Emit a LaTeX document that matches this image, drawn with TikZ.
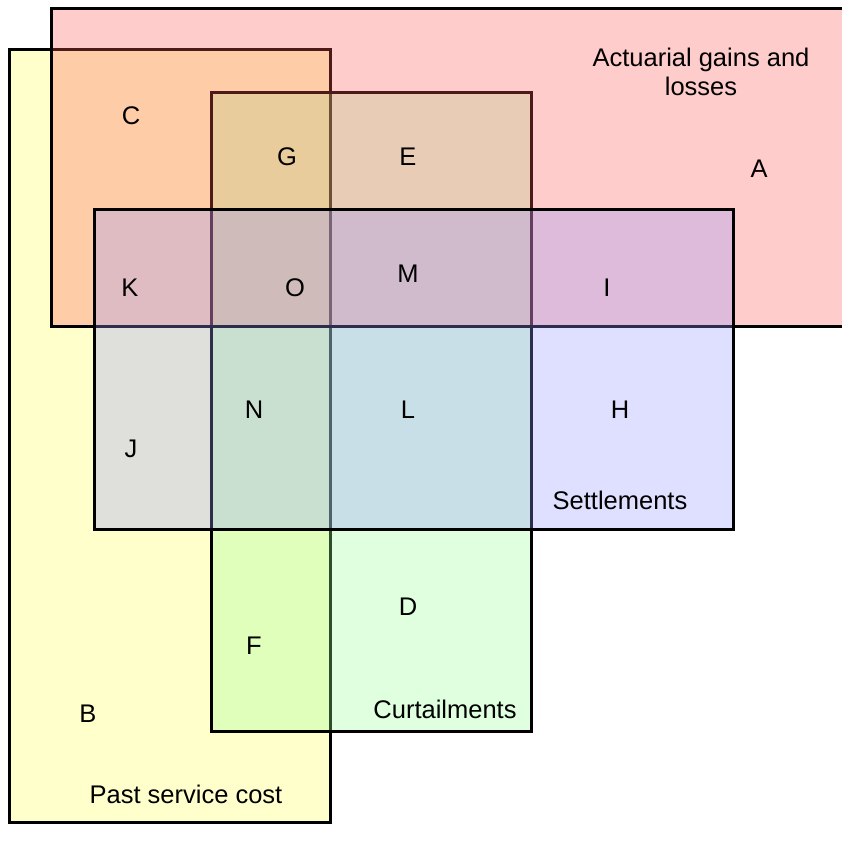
\documentclass[tikz,border=0pt]{standalone}
\usepackage{fontspec}
\setmainfont{Liberation Sans}
\definecolor{redset}{RGB}{255,85,85}
\definecolor{yellowset}{RGB}{255,255,85}
\definecolor{greenset}{RGB}{150,255,150}
\definecolor{blueset}{RGB}{150,150,255}
\tikzset{
  setbox/.style={fill opacity=0.3, draw=black, line width=3pt, line join=miter},
  lbl/.style={font=\fontsize{25.5}{29}\selectfont, inner sep=0pt, text=black},
}
\begin{document}
\begin{tikzpicture}[x=1pt,y=-1pt]
\useasboundingbox (0,0) rectangle (842,849);
\begin{scope}
\clip (0,0) rectangle (842,849);
\path[setbox, fill=yellowset] (9,49) rectangle (330,822);
\path[setbox, fill=greenset] (211,92) rectangle (531,731);
\path[setbox, fill=redset] (51,8) rectangle (860,326);
\path[setbox, fill=blueset] (94,209) rectangle (733,529);
\end{scope}
\node[lbl, anchor=base] (act1) at (701,66) {Actuarial gains and};
\node[lbl, anchor=base] (act2) at (701,95) {losses};
\node[lbl] (A) at (759,169) {A};
\node[lbl] (C) at (131,116) {C};
\node[lbl] (G) at (287,157) {G};
\node[lbl] (E) at (408,157) {E};
\node[lbl] (K) at (130,288) {K};
\node[lbl] (O) at (295,288) {O};
\node[lbl] (M) at (408,274) {M};
\node[lbl] (I) at (607,288) {I};
\node[lbl] (N) at (254,410) {N};
\node[lbl] (L) at (408,410) {L};
\node[lbl] (H) at (620,410) {H};
\node[lbl] (J) at (131,449) {J};
\node[lbl] (settle) at (620,500) {Settlements};
\node[lbl] (D) at (408,607) {D};
\node[lbl] (F) at (254,646) {F};
\node[lbl] (B) at (88,714) {B};
\node[lbl] (curt) at (445,709) {Curtailments};
\node[lbl] (past) at (186,794) {Past service cost};
\end{tikzpicture}
\end{document}
